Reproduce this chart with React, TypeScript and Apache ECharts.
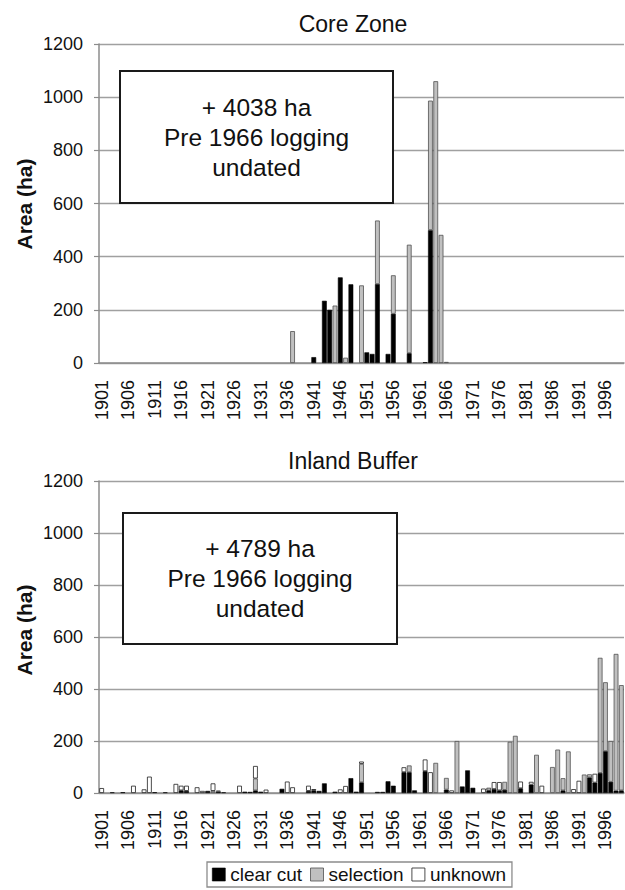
import React, { useEffect, useRef } from "react";
import * as echarts from "echarts";

// Category years (1901–1999)
const years: string[] = Array.from({ length: 99 }, (_, i) => String(1901 + i));

// Core Zone (ha) — [year, value]
const coreClearCut: [number, number][] = [
  [1941, 22], [1943, 234], [1944, 200], [1946, 322], [1948, 296], [1951, 40],
  [1952, 34], [1953, 297], [1955, 34], [1956, 185], [1959, 37], [1962, 3], [1963, 500],
];
const coreSelection: [number, number][] = [
  [1937, 120], [1945, 216], [1947, 20], [1950, 292], [1953, 239], [1956, 145],
  [1959, 408], [1963, 487], [1964, 1060], [1965, 482], [1966, 4],
];
const coreUnknown: [number, number][] = [];

// Inland Buffer (ha) — [year, value]
const bufferClearCut: [number, number][] = [
  [1905, 3], [1911, 3], [1916, 10], [1917, 8], [1921, 8], [1923, 6], [1928, 5],
  [1929, 4], [1930, 10], [1931, 5], [1935, 16], [1940, 8], [1941, 10], [1942, 8],
  [1943, 37], [1945, 5], [1948, 57], [1949, 5], [1950, 41], [1953, 4], [1954, 4],
  [1955, 45], [1956, 28], [1958, 80], [1959, 80], [1960, 10], [1962, 84], [1966, 13],
  [1969, 25], [1970, 87], [1971, 20], [1974, 10], [1975, 15], [1976, 10], [1977, 12],
  [1980, 18], [1982, 32], [1988, 10], [1993, 60], [1994, 40], [1995, 77], [1996, 161],
  [1997, 43], [1998, 9], [1999, 10],
];
const bufferSelection: [number, number][] = [
  [1922, 8], [1923, 3], [1930, 46], [1950, 71], [1959, 26], [1964, 116], [1966, 45],
  [1968, 200], [1977, 31], [1978, 197], [1979, 220], [1983, 147], [1986, 100],
  [1987, 167], [1988, 47], [1989, 160], [1992, 71], [1993, 12], [1995, 443],
  [1996, 265], [1997, 157], [1998, 526], [1999, 405],
];
const bufferUnknown: [number, number][] = [
  [1901, 19], [1903, 3], [1907, 28], [1909, 14], [1910, 63], [1913, 3], [1915, 35],
  [1916, 18], [1917, 20], [1919, 22], [1920, 8], [1922, 29], [1924, 3], [1927, 28],
  [1930, 48], [1932, 13], [1936, 44], [1937, 22], [1940, 20], [1941, 5], [1946, 14],
  [1947, 27], [1950, 9], [1958, 19], [1962, 45], [1963, 80], [1967, 10], [1973, 17],
  [1974, 10], [1975, 27], [1976, 32], [1980, 26], [1982, 11], [1984, 28], [1990, 15],
  [1991, 47], [1994, 34],
];

const yTicks = { min: 0, max: 1200, interval: 200 };
const seriesNames = ["clear cut", "selection", "unknown"];
const panelTitles = ["Core Zone", "Inland Buffer"];
const boxLines = [
  ["+ 4038 ha", "Pre 1966 logging", "undated"],
  ["+ 4789 ha", "Pre 1966 logging", "undated"],
];

const FONT = '"Liberation Sans", Arial, Helvetica, sans-serif';

function toSeries(pairs: [number, number][]) {
  const m = new Map<number, number>(pairs);
  return years.map((y) => (m.has(Number(y)) ? m.get(Number(y)) : "-"));
}

const styles = [
  { color: "#000000", borderColor: "#000000", borderWidth: 0.6 },
  { color: "#c0c0c0", borderColor: "#505050", borderWidth: 0.8 },
  { color: "#ffffff", borderColor: "#202020", borderWidth: 0.8 },
];

export default function App() {
  const ref = useRef<HTMLDivElement>(null);
  useEffect(() => {
    if (!ref.current) return;
    const chart = echarts.init(ref.current, undefined, { renderer: "svg" });
    const grids = [
      { left: 99, top: 44, width: 525, height: 319 },
      { left: 99, top: 481, width: 525, height: 312 },
    ];
    const axisGray = "#8c8c8c";
    const xAxes = grids.map((_, i) => ({
      type: "category",
      gridIndex: i,
      data: years,
      boundaryGap: true,
      axisLine: { lineStyle: { color: axisGray, width: 1.5 } },
      axisTick: { interval: 4, length: 6, lineStyle: { color: axisGray, width: 1.2 } },
      axisLabel: {
        interval: 4,
        rotate: 90,
        fontSize: 18,
        color: "#111",
        margin: 17,
        fontFamily: FONT,
      },
    }));
    const yAxes = grids.map((_, i) => ({
      type: "value",
      gridIndex: i,
      min: yTicks.min,
      max: yTicks.max,
      interval: yTicks.interval,
      axisLine: { show: true, lineStyle: { color: axisGray, width: 1.5 } },
      axisTick: { show: true, length: 5, lineStyle: { color: axisGray, width: 1.2 } },
      splitLine: { lineStyle: { color: "#a0a0a0", width: 1.3 } },
      axisLabel: {
        fontSize: 18,
        color: "#111",
        margin: 16,
        fontFamily: FONT,
        formatter: (v: number) => String(v),
      },
    }));
    const panels = [
      [coreClearCut, coreSelection, coreUnknown],
      [bufferClearCut, bufferSelection, bufferUnknown],
    ];
    const series: any[] = [];
    panels.forEach((sets, gi) => {
      sets.forEach((pairs, si) => {
        series.push({
          type: "bar",
          name: seriesNames[si],
          xAxisIndex: gi,
          yAxisIndex: gi,
          stack: "panel" + gi,
          barCategoryGap: "10%",
          itemStyle: styles[si],
          data: toSeries(pairs),
        });
      });
    });
    const graphic: any[] = [];
    const titleY = [23.5, 460.5];
    const nameY = [204, 630];
    const boxes = [
      { x: 120, y: 71, width: 273, height: 132 },
      { x: 123, y: 513, width: 274, height: 131 },
    ];
    panelTitles.forEach((t, i) => {
      graphic.push({
        type: "text",
        x: 353,
        y: titleY[i],
        style: {
          text: t,
          font: `23px ${FONT}`,
          fill: "#111",
          align: "center",
          verticalAlign: "middle",
          textAlign: "center",
          textVerticalAlign: "middle",
        },
      });
      graphic.push({
        type: "text",
        x: 24,
        y: nameY[i],
        rotation: Math.PI / 2,
        style: {
          text: "Area (ha)",
          font: `bold 21px ${FONT}`,
          fill: "#111",
          align: "center",
          verticalAlign: "middle",
          textAlign: "center",
          textVerticalAlign: "middle",
        },
      });
      const b = boxes[i];
      graphic.push({
        type: "rect",
        z: 100,
        shape: b,
        style: { fill: "#ffffff", stroke: "#1a1a1a", lineWidth: 2 },
      });
      const cx = b.x + b.width / 2;
      const cy = b.y + b.height / 2;
      boxLines[i].forEach((line, li) => {
        graphic.push({
          type: "text",
          z: 101,
          x: cx,
          y: cy + (li - 1) * 30,
          style: {
            text: line,
            font: `24.5px ${FONT}`,
            fill: "#111",
            align: "center",
            verticalAlign: "middle",
            textAlign: "center",
            textVerticalAlign: "middle",
          },
        });
      });
    });
    chart.setOption({
      animation: false,
      textStyle: { fontFamily: FONT },
      grid: grids,
      xAxis: xAxes,
      yAxis: yAxes,
      series,
      legend: {
        left: 207,
        top: 862,
        padding: [3, 6, 3, 5],
        itemGap: 8,
        itemWidth: 13,
        itemHeight: 13,
        icon: "rect",
        borderColor: "#8c8c8c",
        borderWidth: 1.3,
        textStyle: { fontSize: 19, color: "#111", fontFamily: FONT },
        data: seriesNames.map((n, i) => ({ name: n, icon: "rect", itemStyle: styles[i] })),
        selectedMode: false,
      },
      graphic,
    });
    return () => chart.dispose();
  }, []);
  return (
    <div
      ref={ref}
      style={{ position: "fixed", left: 0, top: 0, width: 625, height: 890, background: "#fff" }}
    />
  );
}
